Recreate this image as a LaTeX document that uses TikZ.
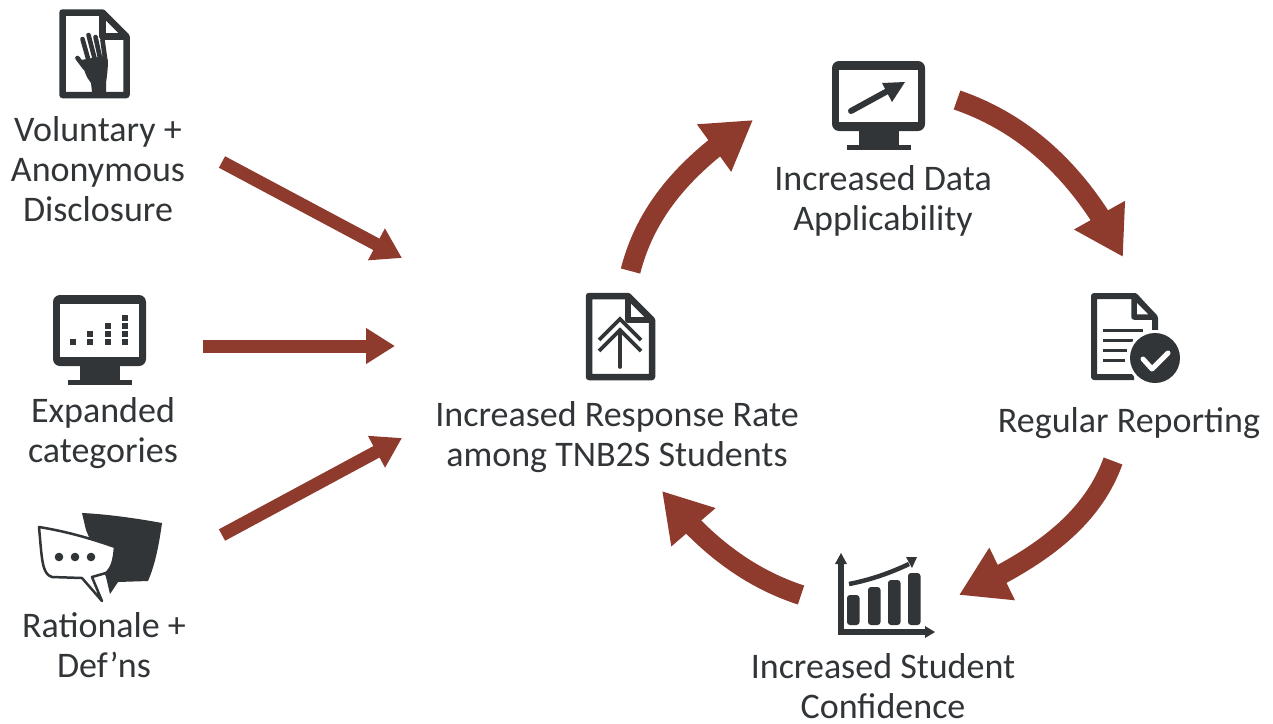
\documentclass[tikz,border=0pt]{standalone}
\usepackage{fontspec}
\setmainfont{Carlito}
\usetikzlibrary{arrows.meta,calc,bending}
\definecolor{ink}{HTML}{313537}
\definecolor{rust}{HTML}{8E3A2D}
\tikzset{
  x=1pt,y=-1pt,
  lbl/.style={align=center,font=\fontsize{36}{40}\selectfont,text=ink,inner sep=0pt,anchor=center},
  thin arrow/.style={draw=rust,line width=13pt,-{Triangle[length=29pt,width=34pt,fill=rust]}},
  fat arrow/.style={draw=rust,line width=20pt,-{Triangle[length=48pt,width=55pt,fill=rust,flex=0.95]}},
  ol/.style={draw=ink,line width=6.5pt,line join=round,fill=white},
}
\newcommand{\docpath}[4]{% x0,y0,x1,y1
  \draw[ol] (#1,#2) -- ({#3-24},#2) -- (#3,{#2+24}) -- (#3,#4) -- (#1,#4) -- cycle;
  \draw[draw=ink,line width=6.5pt,line join=round] ({#3-24},#2) -- ({#3-24},{#2+24}) -- (#3,{#2+24});
}
\newcommand{\monitor}[4]{% x0,y0,x1,y1 outer
  \fill[ink,rounded corners=7pt] (#1,#2) rectangle (#3,#4);
  \fill[white] ({#1+7},{#2+8.5}) rectangle ({#3-7},{#4-9});
  \fill[ink] ({(#1+#3)/2-20},#4) rectangle ({(#1+#3)/2+20},{#4+14});
  \fill[ink] ({(#1+#3)/2-32},{#4+14}) rectangle ({(#1+#3)/2+32},{#4+19});
}
\begin{document}
\begin{tikzpicture}
\useasboundingbox (0,0) rectangle (1273,723);
% anchors for the connectors
\coordinate (v0) at (222,162); \coordinate (v1) at (402,258);
\coordinate (e0) at (203,346); \coordinate (e1) at (395,346);
\coordinate (r0) at (222,535); \coordinate (r1) at (402,438);
\coordinate (a0) at (630.5,271); \coordinate (a1) at (753,120);
\coordinate (b0) at (957,100); \coordinate (b1) at (1123,257);
\coordinate (c0) at (1113,461); \coordinate (c1) at (959,595);
\coordinate (d0) at (801,595); \coordinate (d1) at (662,491);
% labels
\node[lbl] (voluntary) at (98,169) {Voluntary +\\Anonymous\\Disclosure};
\node[lbl] (expanded) at (103,433.5) {Expanded\\categories};
\node[lbl] (rationale) at (104,645) {Rationale +\\Def’ns};
\node[lbl] (response) at (617,437) {Increased Response Rate\\among TNB2S Students};
\node[lbl] (data) at (883,201) {Increased Data\\Applicability};
\node[lbl] (reporting) at (1129,423.5) {Regular Reporting};
\node[lbl] (confidence) at (883,686.5) {Increased Student\\Confidence};
% icon: hand document
\docpath{62.5}{12.5}{126.5}{95}
\fill[ink] (92,92) -- (91,83) .. controls (86,77) and (84,70) .. (81,60) -- (104,56) -- (108,60) .. controls (108,68) and (107,76) .. (106,83) -- (106,92) -- cycle;
\draw[ink,line width=4.6pt,line cap=round] (77.5,58) -- (85,68);
\draw[ink,line width=4.6pt,line cap=round] (82.5,39) -- (89,62);
\draw[ink,line width=4.6pt,line cap=round] (88.5,35) -- (95,60);
\draw[ink,line width=4.6pt,line cap=round] (95.5,37) -- (100.5,60);
\draw[ink,line width=4.6pt,line cap=round] (102.5,40) -- (105.5,62);
% icon: bars monitor
\monitor{53}{295}{146}{366}
\foreach \cx/\cy in {73/342,90/342,90/334,108/342,108/334,108/326,125/342,125/334,125/326,125/318}
  \fill[ink] ({\cx-3},{\cy-3}) rectangle ({\cx+3},{\cy+3});
% icon: speech bubbles
\fill[ink] (82,513) .. controls (105,514) and (135,518) .. (162,523) .. controls (159,545) and (155,565) .. (148,581)
 -- (118,582) -- (110,594) -- (106,577) -- (86,530) -- cycle;
\fill[white,draw=ink,line width=2.5pt,line join=round] (39,527) .. controls (70,532) and (95,540) .. (115,547) .. controls (114,560) and (112,568) .. (106,573)
 -- (92,577) -- (102,601) -- (82,578) -- (52,577) .. controls (42,574) and (42,560) .. (39,527) -- cycle;
\foreach \cx in {59,75,91} \fill[ink] (\cx,557) circle (4.3pt);
% icon: tree document
\docpath{589}{296}{652}{377}
\draw[ink,line width=3.6pt,line cap=round] (620,367) -- (620,330);
\draw[ink,line width=3.6pt] (599,340) -- (620,319) -- (641,340);
\draw[ink,line width=3.6pt] (599,351) -- (620,330) -- (641,351);
% icon: arrow monitor
\monitor{832}{61}{925}{131}
\draw[ink,line width=6pt,line cap=round] (851,111) -- (893,88);
\fill[ink] (905,82) -- (882,83) -- (892,102) -- cycle;
% icon: report
\draw[draw=ink,line width=6pt,line join=round] (1155,338) -- (1155,318) -- (1135,296) -- (1094,296) -- (1094,377) -- (1134,377);
\draw[draw=ink,line width=5.5pt,line join=round,fill=white] (1134,296) -- (1134,317) -- (1155,317) -- cycle;
\foreach \cy/\cxb in {330/1143,340/1133,350/1127,360/1125}
  \draw[ink,line width=3pt] (1103,\cy) -- (\cxb,\cy);
\fill[white] (1155,358) circle (28pt);
\fill[ink] (1155,358) circle (25pt);
\draw[white,line width=5pt,line cap=round,line join=round] (1143,359) -- (1152,369) -- (1168,353);
% icon: chart
\draw[ink,line width=5.5pt] (841,634.5) -- (841,560);
\draw[ink,line width=5.5pt] (838.2,632) -- (926,632);
\fill[ink] (841,553) -- (835,564) -- (847,564) -- cycle;
\fill[ink] (935,632) -- (925,626) -- (925,638) -- cycle;
\foreach \bxa/\by in {847/595,868/587,888/580,908/573}
  \fill[ink,rounded corners=3pt] (\bxa,\by) rectangle ({\bxa+12.5},625);
\draw[ink,line width=4.5pt] (849,584) .. controls (870,580) and (890,573) .. (909,564);
\fill[ink] (917,557) -- (906,557) -- (912,568) -- cycle;
% connectors
\draw[thin arrow] (v0) -- (v1);
\draw[thin arrow] (e0) -- (e1);
\draw[thin arrow] (r0) -- (r1);
\draw[fat arrow] (a0) .. controls (645,215) and (680,168) .. (a1);
\draw[fat arrow] (b0) .. controls (1030,125) and (1085,180) .. (b1);
\draw[fat arrow] (c0) .. controls (1090,525) and (1030,563) .. (c1);
\draw[fat arrow] (d0) .. controls (755,580) and (708,550) .. (d1);
\end{tikzpicture}
\end{document}
